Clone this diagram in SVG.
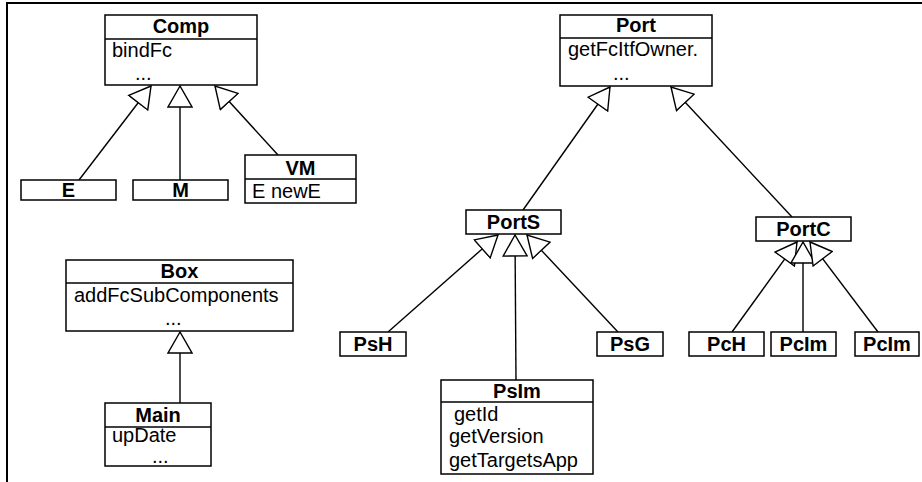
<svg xmlns="http://www.w3.org/2000/svg" width="922" height="482" viewBox="0 0 922 482">
<style>
.box{fill:#fff;stroke:#000;stroke-width:1.5}
.sep{stroke:#000;stroke-width:1.5}
.t{font-family:"Liberation Sans",Arial,sans-serif;font-size:20px;fill:#000}
.b{font-weight:bold;text-anchor:middle}
.c{fill:none;stroke:#000;stroke-width:1.4}
.frame{stroke:#000;stroke-width:2;fill:none}
</style>
<defs>
<marker id="gen" viewBox="0 -13 23 26" refX="22" refY="0" markerWidth="23" markerHeight="26" markerUnits="userSpaceOnUse" orient="auto">
<path d="M22,0 L1,-12 L1,12 Z" fill="#fff" stroke="#000" stroke-width="1.4"/>
</marker>
</defs>
<path class="frame" d="M7,482 V3 H922"/>
<g id="connectors">
<line class="c" x1="79" y1="180" x2="151" y2="86" marker-end="url(#gen)"/>
<line class="c" x1="180" y1="180" x2="180" y2="86" marker-end="url(#gen)"/>
<line class="c" x1="278" y1="155" x2="215" y2="86" marker-end="url(#gen)"/>
<line class="c" x1="180" y1="403" x2="180" y2="332" marker-end="url(#gen)"/>
<line class="c" x1="523" y1="210" x2="610" y2="87" marker-end="url(#gen)"/>
<line class="c" x1="792" y1="217" x2="671" y2="87" marker-end="url(#gen)"/>
<line class="c" x1="388" y1="332" x2="498" y2="235" marker-end="url(#gen)"/>
<line class="c" x1="516" y1="380" x2="515" y2="235" marker-end="url(#gen)"/>
<line class="c" x1="618" y1="332" x2="527" y2="235" marker-end="url(#gen)"/>
<line class="c" x1="732" y1="332" x2="797" y2="242" marker-end="url(#gen)"/>
<line class="c" x1="803" y1="332" x2="803" y2="242" marker-end="url(#gen)"/>
<line class="c" x1="878" y1="332" x2="810" y2="242" marker-end="url(#gen)"/>
</g>
<g id="Comp">
<rect class="box" x="105" y="15" width="152" height="70"/>
<line class="sep" x1="105" y1="39" x2="257" y2="39"/>
<text class="t b" x="181" y="33">Comp</text>
<text class="t" x="112" y="57">bindFc</text>
<text class="t" x="135" y="80">...</text>
</g>
<g id="E">
<rect class="box" x="21" y="180" width="95" height="20"/>
<text class="t b" x="68.5" y="197">E</text>
</g>
<g id="M">
<rect class="box" x="133" y="180" width="95" height="20"/>
<text class="t b" x="180.5" y="197">M</text>
</g>
<g id="VM">
<rect class="box" x="245" y="155" width="111" height="48"/>
<line class="sep" x1="245" y1="179" x2="356" y2="179"/>
<text class="t b" x="300.5" y="175">VM</text>
<text class="t" x="252" y="198">E newE</text>
</g>
<g id="Box">
<rect class="box" x="66" y="260" width="227" height="71"/>
<line class="sep" x1="66" y1="283" x2="293" y2="283"/>
<text class="t b" x="179.5" y="278">Box</text>
<text class="t" x="74" y="302">addFcSubComponents</text>
<text class="t" x="165" y="325">...</text>
</g>
<g id="Main">
<rect class="box" x="105" y="403" width="106" height="63"/>
<line class="sep" x1="105" y1="427" x2="211" y2="427"/>
<text class="t b" x="158" y="422">Main</text>
<text class="t" x="112" y="442">upDate</text>
<text class="t" x="152" y="463">...</text>
</g>
<g id="Port">
<rect class="box" x="560" y="15" width="152" height="71"/>
<line class="sep" x1="560" y1="38" x2="712" y2="38"/>
<text class="t b" x="636" y="32">Port</text>
<text class="t" x="568" y="56">getFcItfOwner.</text>
<text class="t" x="613" y="80">...</text>
</g>
<g id="PortS">
<rect class="box" x="466" y="210" width="95" height="24"/>
<text class="t b" x="513.5" y="229">PortS</text>
</g>
<g id="PortC">
<rect class="box" x="756" y="217" width="95" height="24"/>
<text class="t b" x="803.5" y="236">PortC</text>
</g>
<g id="PsH">
<rect class="box" x="340" y="332" width="66" height="24"/>
<text class="t b" x="373" y="351">PsH</text>
</g>
<g id="PsG">
<rect class="box" x="597" y="332" width="66" height="24"/>
<text class="t b" x="630" y="351">PsG</text>
</g>
<g id="PsIm">
<rect class="box" x="441" y="380" width="152" height="94"/>
<line class="sep" x1="441" y1="402" x2="593" y2="402"/>
<text class="t b" x="517" y="398">PsIm</text>
<text class="t" x="454" y="421">getId</text>
<text class="t" x="449" y="443">getVersion</text>
<text class="t" x="449" y="467">getTargetsApp</text>
</g>
<g id="PcH">
<rect class="box" x="689" y="332" width="75" height="24"/>
<text class="t b" x="726.5" y="351">PcH</text>
</g>
<g id="PcIm1">
<rect class="box" x="771" y="332" width="65" height="24"/>
<text class="t b" x="803.5" y="351">PcIm</text>
</g>
<g id="PcIm2">
<rect class="box" x="855" y="332" width="64" height="24"/>
<text class="t b" x="887" y="351">PcIm</text>
</g>
</svg>
